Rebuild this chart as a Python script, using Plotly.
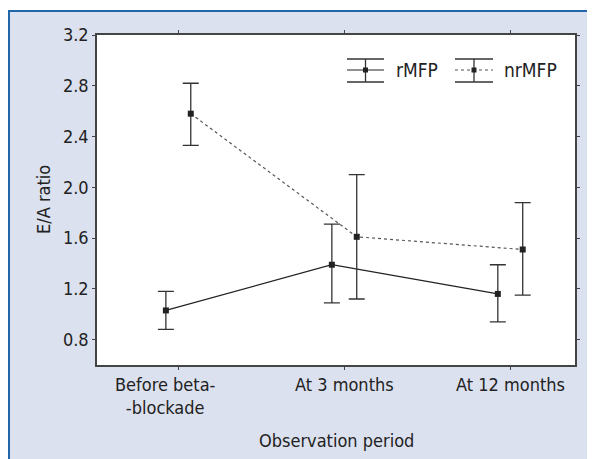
import plotly.graph_objects as go

categories = ["Before beta-<br>-blockade", "At 3 months", "At 12 months"]
cat_pos = [0, 1, 2]
y_ticks = [0.8, 1.2, 1.6, 2.0, 2.4, 2.8, 3.2]

r_mean = [1.03, 1.39, 1.16]
r_upper = [1.18, 1.71, 1.39]
r_lower = [0.88, 1.09, 0.94]

nr_mean = [2.58, 1.61, 1.51]
nr_upper = [2.82, 2.10, 1.88]
nr_lower = [2.33, 1.12, 1.15]

offset = 0.075
FONT = "Liberation Sans Narrow, DejaVu Sans Condensed, Arial Narrow, sans-serif"
BG = "#dbe1ee"
DARK = "#222222"
FS = 18

fig = go.Figure()

def add_series(name, means, up, lo, shift, dash, color):
    fig.add_trace(go.Scatter(
        x=[p + shift for p in cat_pos], y=means, name=name,
        mode="lines+markers",
        line=dict(color=color, width=1.2, dash=dash),
        marker=dict(symbol="square", size=6, color=DARK),
        error_y=dict(type="data", symmetric=False,
                     array=[u - m for u, m in zip(up, means)],
                     arrayminus=[m - l for m, l in zip(means, lo)],
                     color="#333333", thickness=1.3, width=8),
        showlegend=False,
    ))

add_series("rMFP", r_mean, r_upper, r_lower, -offset, "solid", DARK)
add_series("nrMFP", nr_mean, nr_upper, nr_lower, offset, "dot", "#555555")

# page offset of the figure (body margin)
OFF = 8
W, H = 595 - OFF, 459 - OFF
L, R, T, B = 97, 575, 35, 365   # page coordinates of plot area
pw, ph = R - L, B - T
def px(x):
    return (x - L) / pw
def py(y):
    return (B - y) / ph

shapes = []
shapes.append(dict(type="rect", xref="paper", yref="paper", layer="below",
                   x0=px(0), x1=px(620), y0=py(11), y1=py(0),
                   fillcolor="white", line=dict(width=0)))
shapes.append(dict(type="line", xref="paper", yref="paper",
                   x0=px(9), x1=px(9), y0=py(11), y1=py(480),
                   line=dict(color="#2266aa", width=2)))
shapes.append(dict(type="line", xref="paper", yref="paper",
                   x0=px(8), x1=px(620), y0=py(11), y1=py(11),
                   line=dict(color="#2266aa", width=2)))

def legend_glyph(x0, x1, dash, color):
    xc = (x0 + x1) / 2
    out = []
    for yy in (59, 82):
        out.append(dict(type="line", xref="paper", yref="paper",
                        x0=px(x0), x1=px(x1), y0=py(yy), y1=py(yy),
                        line=dict(color="#333333", width=1.3)))
    out.append(dict(type="line", xref="paper", yref="paper",
                    x0=px(xc), x1=px(xc), y0=py(59), y1=py(82),
                    line=dict(color="#333333", width=1.3)))
    out.append(dict(type="line", xref="paper", yref="paper",
                    x0=px(x0), x1=px(x1), y0=py(70), y1=py(70),
                    line=dict(color=color, width=1.2, dash=dash)))
    out.append(dict(type="rect", xref="paper", yref="paper",
                    x0=px(xc - 2.5), x1=px(xc + 2.5), y0=py(72.5), y1=py(67.5),
                    fillcolor=DARK, line=dict(width=0)))
    return out

shapes += legend_glyph(347, 384, "solid", DARK)
shapes += legend_glyph(455, 493, "dot", "#555555")

def txt(text, x, y, xanchor="left", yanchor="middle", size=FS, angle=0, xref="paper", xshift=0):
    return dict(text=text, xref=xref, yref="paper", x=x, y=py(y),
                xanchor=xanchor, yanchor=yanchor, showarrow=False, textangle=angle,
                xshift=xshift, align="center",
                font=dict(family=FONT, size=size, color=DARK))

annotations = [
    txt("rMFP", px(394), 70, size=19),
    txt("nrMFP", px(502), 70, size=19),
    txt("Observation period", px(336), 440, xanchor="center"),
    txt("E/A ratio", px(43), 200, xanchor="center", angle=-90),
]
label_shift = [-13, 0, 0]
for p, s, sh in zip(cat_pos, categories, label_shift):
    annotations.append(txt(s, p, 372, xanchor="center", yanchor="top", xref="x", xshift=sh))

axis_common = dict(showline=True, linecolor="#444444", linewidth=1.5, mirror="allticks",
                   ticks="outside", ticklen=3, tickcolor="#444444", showgrid=False,
                   zeroline=False, tickfont=dict(family=FONT, size=FS, color=DARK))

fig.update_layout(
    width=W, height=H,
    margin=dict(l=L - OFF, r=595 - R, t=T - OFF, b=459 - B),
    paper_bgcolor=BG, plot_bgcolor="white",
    font=dict(family=FONT, size=FS, color=DARK),
    xaxis=dict(**axis_common, tickmode="array", tickvals=cat_pos,
               ticktext=["" for _ in categories], range=[-0.49, 2.39]),
    yaxis=dict(**axis_common, tickmode="array", tickvals=y_ticks,
               ticktext=[f"{v:.1f}" for v in y_ticks], range=[0.6, 3.2]),
    shapes=shapes, annotations=annotations,
)

fig.write_html("out.html")
